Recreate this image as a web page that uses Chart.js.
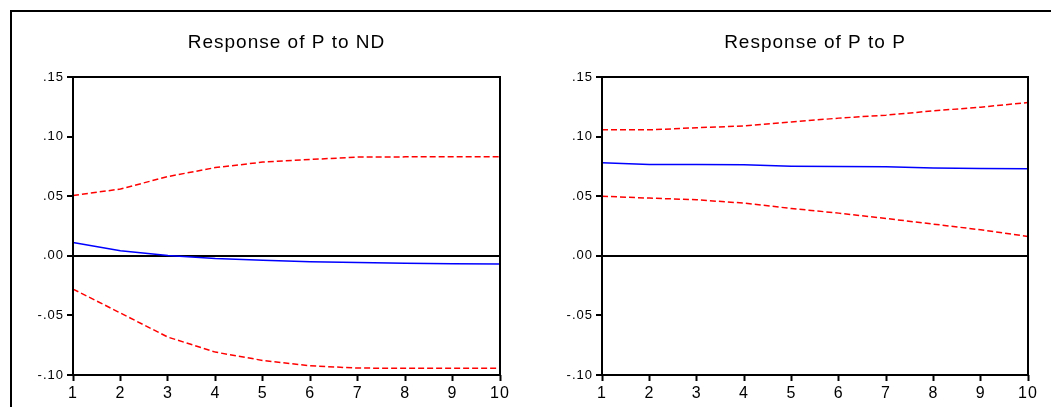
<!DOCTYPE html>
<html>
<head>
<meta charset="utf-8">
<script src="https://cdn.jsdelivr.net/npm/chart.js@4.4.0/dist/chart.umd.min.js"></script>
<style>
  body { margin: 0; background: #fff; }
  #frame {
    position: absolute; left: 10px; top: 10px; width: 1041px; height: 397px;
    border-top: 2px solid #000; border-left: 2px solid #000;
  }
  canvas { position: absolute; top: 12px; }
  #left { left: 12px; }
  #right { left: 521px; }
</style>
</head>
<body>
<div id="frame"></div>
<canvas id="left" width="509" height="395"></canvas>
<canvas id="right" width="530" height="395"></canvas>
<script>
// periods on the x axis
const periods = ['1', '2', '3', '4', '5', '6', '7', '8', '9', '10'];
const yTicks = [-0.10, -0.05, 0.00, 0.05, 0.10, 0.15];

// Response of P to ND
const respND = [0.0112, 0.0043, 0.0003, -0.0022, -0.0038, -0.0049, -0.0056, -0.0062, -0.0066, -0.0068];
const upperND = [0.0506, 0.0560, 0.0665, 0.0740, 0.0786, 0.0808, 0.0828, 0.0830, 0.0830, 0.0830];
const lowerND = [-0.0279, -0.0480, -0.0682, -0.0808, -0.0878, -0.0923, -0.0942, -0.0943, -0.0943, -0.0943];

// Response of P to P
const respP = [0.0780, 0.0766, 0.0765, 0.0763, 0.0752, 0.0749, 0.0747, 0.0736, 0.0733, 0.0731];
const upperP = [0.1057, 0.1057, 0.1074, 0.1090, 0.1122, 0.1155, 0.1180, 0.1216, 0.1247, 0.1286];
const lowerP = [0.0500, 0.0484, 0.0470, 0.0442, 0.0397, 0.0358, 0.0313, 0.0266, 0.0218, 0.0162];

function fmtTick(v) {
  const s = Math.abs(v).toFixed(2).replace(/^0/, '');
  return (v < 0 ? '-' : '') + s;
}

// wide text spacing + box around the plot area
const framePlugin = {
  id: 'framePlugin',
  beforeDraw(chart) {
    chart.ctx.letterSpacing = '1px';
  },
  afterDatasetsDraw(chart) {
    const a = chart.chartArea;
    const ctx = chart.ctx;
    ctx.save();
    ctx.strokeStyle = '#000';
    ctx.lineWidth = 2;
    ctx.strokeRect(Math.round(a.left), Math.round(a.top), Math.round(a.right - a.left), Math.round(a.bottom - a.top));
    ctx.restore();
  }
};

function makePanel(id, title, axisWidth, padRight, resp, upper, lower) {
  const band = (data) => ({
    data: data,
    borderColor: '#ff0000',
    borderWidth: 1.5,
    borderDash: [6, 3],
    pointRadius: 0,
    tension: 0,
    fill: false
  });

  new Chart(document.getElementById(id), {
    type: 'line',
    data: {
      labels: periods,
      datasets: [
        band(upper),
        band(lower),
        { data: resp, borderColor: '#0000ff', borderWidth: 1.5, pointRadius: 0, tension: 0, fill: false }
      ]
    },
    options: {
      responsive: false,
      animation: false,
      devicePixelRatio: 1,
      layout: { padding: { left: 0, right: padRight, top: 0, bottom: 0 } },
      plugins: {
        legend: { display: false },
        tooltip: { enabled: false },
        title: {
          display: true,
          text: title,
          fullSize: false,
          color: '#000',
          font: { family: 'Liberation Sans, Arial, sans-serif', size: 19, weight: 'normal' },
          padding: { top: 19.5, bottom: 22.7 }
        }
      },
      scales: {
        x: {
          offset: false,
          afterFit: (s) => { s.height = 32; },
          grid: { drawOnChartArea: false, tickLength: 6, tickColor: '#000', tickWidth: 2 },
          border: { display: false },
          ticks: {
            color: '#000',
            padding: 3,
            maxRotation: 0,
            autoSkip: false,
            font: { family: 'Liberation Sans, Arial, sans-serif', size: 16 }
          }
        },
        y: {
          min: -0.10,
          max: 0.15,
          afterFit: (s) => { s.width = axisWidth; },
          afterBuildTicks: (s) => { s.ticks = yTicks.map(v => ({ value: v })); },
          grid: {
            color: (c) => (c.tick && c.tick.value === 0 ? '#000' : 'rgba(0,0,0,0)'),
            lineWidth: 2,
            tickLength: 6,
            tickColor: '#000',
            tickWidth: 2
          },
          border: { display: false },
          ticks: {
            color: '#000',
            padding: 3,
            font: { family: 'Liberation Sans, Arial, sans-serif', size: 13 },
            callback: (v) => fmtTick(v)
          }
        }
      }
    },
    plugins: [framePlugin]
  });
}

makePanel('left', 'Response of P to ND', 61, 21, respND, upperND, lowerND);
makePanel('right', 'Response of P to P', 81, 23, respP, upperP, lowerP);
</script>
</body>
</html>
